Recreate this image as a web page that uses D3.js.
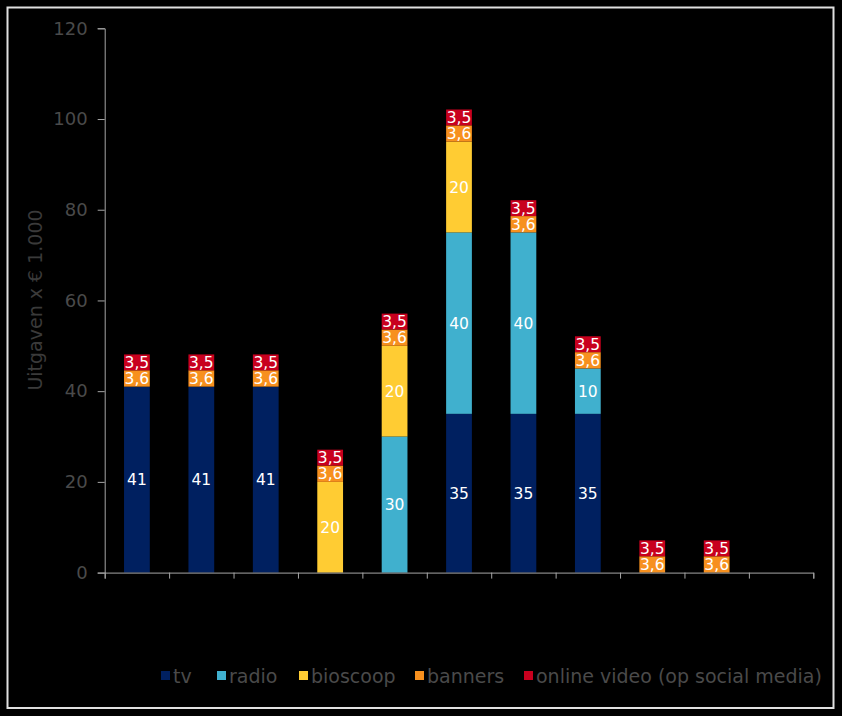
<!DOCTYPE html>
<html><head><meta charset="utf-8">
<script src="https://cdn.jsdelivr.net/npm/d3@7"></script>
<style>body{margin:0;background:#000;}svg{display:block;}</style>
</head><body>
<svg id="c" width="842" height="716"></svg>
<script>
const categories = ["c1","c2","c3","c4","c5","c6","c7","c8","c9","c10","c11"];
const tv       = [41,41,41,0,0,35,35,35,0,0,0];
const radio    = [0,0,0,0,30,40,40,10,0,0,0];
const bioscoop = [0,0,0,20,20,20,0,0,0,0,0];
const banners  = [3.6,3.6,3.6,3.6,3.6,3.6,3.6,3.6,3.6,3.6,0];
const online   = [3.5,3.5,3.5,3.5,3.5,3.5,3.5,3.5,3.5,3.5,0];
const yTicks = [0,20,40,60,80,100,120];
const seriesNames = ["tv","radio","bioscoop","banners","online video (op social media)"];
const colors = ["#002060","#40B0CE","#FFCC33","#F7901E","#C8001E"];

const svg = d3.select("#c");
const FONT = "'DejaVu Sans', Verdana, sans-serif";
svg.append("rect").attr("width",842).attr("height",716).attr("fill","#000");
svg.append("rect").attr("x",7.5).attr("y",7.5).attr("width",826).attr("height",700.5)
  .attr("fill","none").attr("stroke","#e0e0e0").attr("stroke-width",2);

const x = d3.scaleBand().domain(categories).range([104.7,813.3]).paddingInner(0.6).paddingOuter(0.3);
const y = d3.scaleLinear().domain([0,120]).range([572.6,28.3]);

const data = categories.map((c,i)=>({cat:c, tv:tv[i], radio:radio[i], bioscoop:bioscoop[i], banners:banners[i], online:online[i]}));
const keys = ["tv","radio","bioscoop","banners","online"];
const stack = d3.stack().keys(keys)(data);

const fmt = v => String(v).replace(".",",");
stack.forEach((layer,li)=>{
  layer.forEach((d,i)=>{
    const v = data[i][keys[li]];
    if(v<=0) return;
    svg.append("rect").attr("x",x(categories[i])).attr("width",x.bandwidth())
      .attr("y",y(d[1])).attr("height",y(d[0])-y(d[1])).attr("fill",colors[li]);
  });
});
stack.forEach((layer,li)=>{
  layer.forEach((d,i)=>{
    const v = data[i][keys[li]];
    if(v<=0) return;
    svg.append("text").attr("x",x(categories[i])+x.bandwidth()/2)
      .attr("y",(y(d[0])+y(d[1]))/2).attr("dy","0.36em")
      .attr("text-anchor","middle").attr("fill","#fff")
      .style("font-family",FONT).style("font-size","15.5px")
      .text(fmt(v));
  });
});

// y axis
const yAxis = svg.append("g").attr("transform","translate(104.7,0)")
  .call(d3.axisLeft(y).tickValues(yTicks).tickSize(7).tickPadding(10));
yAxis.select(".domain").attr("stroke","#a6a6a6");
yAxis.selectAll(".tick line").attr("stroke","#a6a6a6");
yAxis.selectAll("text").attr("fill","#4a4a4a").style("font-family",FONT).style("font-size","18px");

// x axis
const xb = d3.scaleLinear().domain([0,11]).range([104.7,813.3]);
const xAxis = svg.append("g").attr("transform","translate(0,572.6)")
  .call(d3.axisBottom(xb).tickValues(d3.range(0,12)).tickSize(6).tickFormat(""));
xAxis.select(".domain").attr("stroke","#a6a6a6");
xAxis.selectAll(".tick line").attr("stroke","#a6a6a6");

svg.append("text").attr("transform","translate(35,300) rotate(-90)")
  .attr("text-anchor","middle").attr("dy","0.36em").attr("fill","#3a3a3a")
  .style("font-family",FONT).style("font-size","19px")
  .text("Uitgaven x € 1.000");

// legend
const legX = [161,217,299,415,524];
seriesNames.forEach((n,i)=>{
  svg.append("rect").attr("x",legX[i]).attr("y",671).attr("width",9).attr("height",9).attr("fill",colors[i]);
  svg.append("text").attr("x",legX[i]+12).attr("y",676).attr("dy","0.36em").attr("fill","#4a4a4a")
    .style("font-family",FONT).style("font-size","19px").text(n);
});
</script>
</body></html>
